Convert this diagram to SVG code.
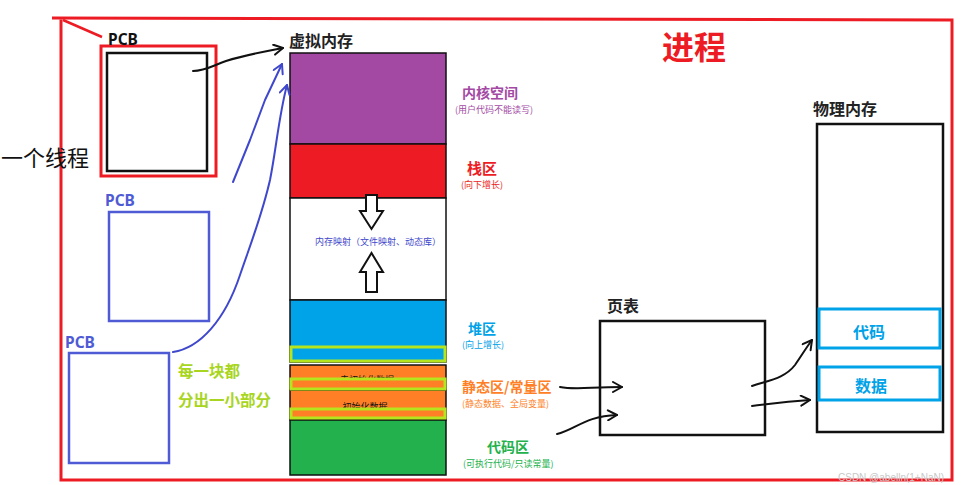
<svg xmlns="http://www.w3.org/2000/svg" width="962" height="485" viewBox="0 0 962 485">
<defs>
<style>
.cjk{font-family:"Noto Sans CJK SC","Noto Sans",sans-serif}
.b{font-weight:bold}
.lbl{font-family:"Noto Sans CJK SC","Noto Sans",sans-serif;font-weight:bold;font-size:16px;fill:#222}
.pcb{font-family:"Noto Sans","Liberation Sans",sans-serif;font-weight:bold;font-size:15.5px}
.cap{font-family:"Noto Sans CJK SC",sans-serif;font-size:9px}
.box{fill:none;stroke:#111;stroke-width:2.5}
.seg{stroke:#111;stroke-width:1.5}
.hand{fill:none;stroke:#111;stroke-width:2;stroke-linecap:round;stroke-linejoin:round}
.blue{fill:none;stroke:#3f48cc;stroke-width:2;stroke-linecap:round;stroke-linejoin:round}
.yg{stroke:#b5e61d;stroke-width:3}
</style>
<marker id="ah" viewBox="0 0 12 12" refX="11" refY="6" markerWidth="12" markerHeight="12" markerUnits="userSpaceOnUse" orient="auto">
<path d="M2,1 L11,6 L2,11" fill="none" stroke="#111" stroke-width="2" stroke-linecap="round" stroke-linejoin="round"/>
</marker>
<marker id="ahb" viewBox="0 0 12 12" refX="11" refY="6" markerWidth="12" markerHeight="12" markerUnits="userSpaceOnUse" orient="auto">
<path d="M2,1 L11,6 L2,11" fill="none" stroke="#3f48cc" stroke-width="2" stroke-linecap="round" stroke-linejoin="round"/>
</marker>
</defs>
<rect width="962" height="485" fill="#fff"/>

<g id="process-frame">
<path d="M52,18 L952,20 L952,480 L61,480 L61,18" fill="none" stroke="#ed1c24" stroke-width="3"/>
<path d="M63,20 L102,37" stroke="#ed1c24" stroke-width="2.5"/>
<text x="662" y="59" class="cjk b" font-size="32" fill="#ed1c24">进程</text>
</g>

<g id="thread-label">
<text x="1" y="166" class="cjk" font-size="22" fill="#111">一个线程</text>
</g>

<g id="pcb1">
<rect x="101" y="46" width="115" height="130" fill="none" stroke="#ed1c24" stroke-width="3"/>
<rect x="107" y="53" width="100" height="118" class="box"/>
<text x="108" y="45" class="pcb" fill="#111">PCB</text>
</g>

<g id="pcb2">
<rect x="109" y="212" width="100" height="109" fill="none" stroke="#4f5bd5" stroke-width="2.5"/>
<text x="105" y="206" class="pcb" fill="#4f5bd5">PCB</text>
</g>

<g id="pcb3">
<rect x="69" y="353" width="100" height="110" fill="none" stroke="#4f5bd5" stroke-width="2.5"/>
<text x="65" y="348" class="pcb" fill="#4f5bd5">PCB</text>
</g>

<g id="note">
<text x="178" y="377" class="cjk b" font-size="15.5" fill="#a8d520">每一块都</text>
<text x="178" y="406" class="cjk b" font-size="15.5" fill="#a8d520">分出一小部分</text>
</g>

<g id="virtual-memory">
<text x="289" y="47" class="lbl">虚拟内存</text>
<rect x="290" y="53" width="156" height="91" fill="#a349a4" class="seg"/>
<rect x="290" y="144" width="156" height="54" fill="#ed1c24" class="seg"/>
<rect x="290" y="198" width="156" height="102" fill="#fff" class="seg"/>
<rect x="290" y="300" width="156" height="62" fill="#00a2e8" class="seg"/>
<rect x="290" y="365" width="156" height="25" fill="#ff7f27" class="seg"/>
<rect x="290" y="390" width="156" height="30" fill="#ff7f27" class="seg"/>
<rect x="290" y="420" width="156" height="55" fill="#22b14c" class="seg"/>
<text x="367" y="383" class="cap" text-anchor="middle" fill="#111">未初始化数据</text>
<text x="365" y="410" class="cap" text-anchor="middle" fill="#111">初始化数据</text>
<rect x="291" y="347" width="154" height="14" fill="#00a2e8" class="yg"/>
<rect x="291" y="379" width="154" height="10" fill="#ff7f27" class="yg"/>
<rect x="291" y="409" width="154" height="9" fill="#ff7f27" class="yg"/>
<path d="M366,195 L377,195 L377,211 L383,211 L371.5,229 L360,211 L366,211 Z" fill="#fff" stroke="#111" stroke-width="2"/>
<path d="M366,292 L377,292 L377,272 L383,272 L371.5,253 L360,272 L366,272 Z" fill="#fff" stroke="#111" stroke-width="2"/>
<text x="378" y="245" class="cap" text-anchor="middle" fill="#3f48cc">内存映射（文件映射、动态库）</text>
</g>

<g id="vm-labels">
<text x="462" y="98" class="cjk b" font-size="14" fill="#a349a4">内核空间</text>
<text x="455" y="113" class="cap" fill="#a349a4">(用户代码不能读写)</text>
<text x="467" y="174" class="cjk b" font-size="15" fill="#ed1c24">栈区</text>
<text x="461" y="188" class="cap" fill="#ed1c24">(向下增长)</text>
<text x="468" y="334" class="cjk b" font-size="14" fill="#00a2e8">堆区</text>
<text x="462" y="348" class="cap" fill="#00a2e8">(向上增长)</text>
<text x="462" y="392" class="cjk b" font-size="14" fill="#ff7f27">静态区/常量区</text>
<text x="462" y="407" class="cap" fill="#ff7f27">(静态数据、全局变量)</text>
<text x="487" y="452" class="cjk b" font-size="14" fill="#22b14c">代码区</text>
<text x="463" y="467" class="cap" fill="#22b14c">(可执行代码/只读常量)</text>
</g>

<g id="page-table">
<text x="607" y="312" class="lbl">页表</text>
<rect x="600" y="321" width="165" height="114" class="box"/>
</g>

<g id="physical-memory">
<text x="813" y="115" class="lbl">物理内存</text>
<rect x="817" y="124" width="126" height="308" class="box"/>
<rect x="819" y="309" width="121" height="39" fill="none" stroke="#00a2e8" stroke-width="3"/>
<rect x="819" y="367" width="121" height="33" fill="none" stroke="#00a2e8" stroke-width="3"/>
<text x="869" y="338" class="cjk b" font-size="16" fill="#00a2e8" text-anchor="middle">代码</text>
<text x="871" y="392" class="cjk b" font-size="16" fill="#00a2e8" text-anchor="middle">数据</text>
</g>

<g id="connectors">
<path d="M193,71 C205,71 212,66 226,61 C245,55 262,52 283,48" class="hand" marker-end="url(#ah)"/>
<path d="M233,182 L250,140 L265,100 L282,64" class="blue" marker-end="url(#ahb)"/>
<path d="M173,352 C200,348 225,320 240,275 C252,240 262,215 270,180 C276,150 279,115 287,85" class="blue" marker-end="url(#ahb)"/>
<path d="M560,387 C575,390 590,387 622,387" class="hand" marker-end="url(#ah)"/>
<path d="M557,434 C575,430 585,416 617,415" class="hand" marker-end="url(#ah)"/>
<path d="M752,386 C770,380 785,378 795,365 C802,355 806,348 812,340" class="hand" marker-end="url(#ah)"/>
<path d="M752,406 C770,404 780,402 810,400" class="hand" marker-end="url(#ah)"/>
</g>

<text x="838" y="481" font-family="Liberation Sans, sans-serif" font-size="10" fill="#c8c8c8">CSDN @abelln(1+NaN)</text>
</svg>
